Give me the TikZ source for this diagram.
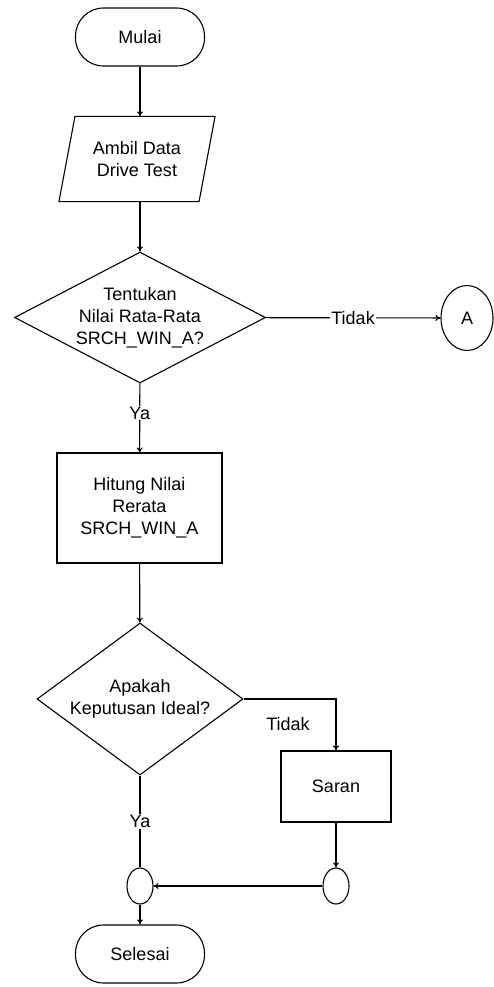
\documentclass[tikz,border=0pt]{standalone}
\usepackage{fontspec}
\setmainfont{Liberation Sans}
\usetikzlibrary{shapes.geometric,arrows.meta}

\begin{document}
\begin{tikzpicture}[x=1pt,y=-1pt,line width=1.1pt,>={To[length=5pt,width=6pt]},
  font=\fontsize{18}{22}\selectfont,
  terminal/.style={draw,rectangle,rounded corners=28pt,minimum width=129pt,minimum height=58pt,inner sep=0pt},
  proses/.style={draw,rectangle,align=center,inner sep=0pt},
  keputusan/.style={draw,diamond,align=center,inner sep=0pt},
  io/.style={rectangle,align=center,inner sep=0pt},
  sambung/.style={draw,ellipse,inner sep=0pt},
  ket/.style={fill=white,inner sep=1pt}]
\useasboundingbox (0,0) rectangle (494,987);
\node[terminal] (mulai) at (140,37) {Mulai};
\node[io,minimum width=139pt,minimum height=84pt] (ambil) at (137,159) {Ambil Data\\Drive Test};
% jajaran genjang untuk input data
\draw ([xshift=8pt]ambil.north west) -- ([xshift=8pt]ambil.north east) -- ([xshift=-8pt]ambil.south east) -- ([xshift=-8pt]ambil.south west) -- cycle;
\node[keputusan,shape aspect=1.916,minimum width=251pt,minimum height=131pt] (tentukan) at (140,317.5) {Tentukan\\Nilai Rata-Rata\\SRCH\_WIN\_A?};
\node[sambung,minimum width=52pt,minimum height=65pt] (a) at (467,318) {A};
\node[proses,minimum width=165pt,minimum height=110pt] (hitung) at (139.5,508) {Hitung Nilai\\Rerata\\SRCH\_WIN\_A};
\node[keputusan,shape aspect=1.355,minimum width=206pt,minimum height=152pt] (apakah) at (140,699) {Apakah\\Keputusan Ideal?};
\node[proses,minimum width=110pt,minimum height=71pt] (saran) at (336,786.5) {Saran};
\node[sambung,minimum width=26pt,minimum height=36pt] (kiri) at (140,886) {};
\node[sambung,minimum width=26pt,minimum height=36pt] (kanan) at (336,886) {};
\node[terminal] (selesai) at (140,954) {Selesai};

\draw[->] (mulai) -- (mulai |- ambil.north);
\draw[->] (ambil.south -| tentukan) -- (tentukan);
\draw[->] (tentukan) -- node[ket] {Tidak} (a);
\draw[->] (tentukan) -- node[ket,pos=0.43] {Ya} (hitung);
\draw[->] (hitung) -- (apakah);
\draw[->] (apakah.east) -| (saran.north);
\node (tidak) at (288,724) {Tidak};
\draw[->] (saran) -- (kanan);
\draw[->] (kanan) -- (kiri);
\draw (apakah) -- node[ket,pos=0.5] {Ya} (kiri);
\draw[->] (kiri) -- (selesai);
\end{tikzpicture}
\end{document}
